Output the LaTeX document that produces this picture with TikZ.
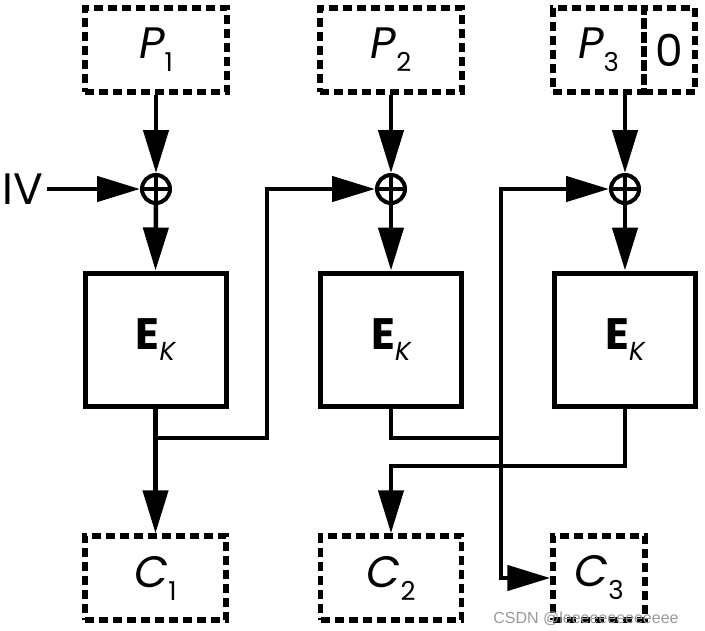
\documentclass[tikz,border=0pt]{standalone}
\usepackage{fontspec}
\setmainfont{Poppins}
\newfontfamily\wmfont{Liberation Sans}
\usetikzlibrary{arrows.meta}
\newcommand{\labsub}[2]{{\itshape #1}\raisebox{-13pt}{\fontsize{26}{26}\selectfont #2}}
\newcommand{\ekey}{{\bfseries E}\raisebox{-11pt}{\fontsize{26}{26}\selectfont\itshape K}}
\begin{document}
\begin{tikzpicture}[x=1pt,y=-1pt,
  dbox/.style={draw,line width=5.5pt,dash pattern=on 9pt off 5pt,minimum height=84pt,inner sep=0pt,font=\fontsize{44}{44}\selectfont},
  ebox/.style={draw,line width=5pt,minimum width=141pt,minimum height=133pt,inner sep=0pt,font=\fontsize{44}{44}\selectfont},
  xorc/.style={draw,circle,line width=4pt,minimum size=28pt,inner sep=0pt},
  wire/.style={line width=4.5pt},
  arr/.style={wire,-{Triangle[length=43pt,width=25pt]}}]
\useasboundingbox (0,0) rectangle (705,630);
% plaintext boxes
\node[dbox,minimum width=142pt] (p1) at (156,50) {\labsub{P}{1}};
\node[dbox,minimum width=142pt] (p2) at (391,50) {\labsub{P}{2}};
\node[dbox,minimum width=91pt] (p3) at (598.5,50) {\labsub{P}{3}};
\node[dbox,minimum width=51pt] (z) at (669.5,50) {0};
% xor
\node[xorc] (x1) at (156,189) {};
\node[xorc] (x2) at (391,189) {};
\node[xorc] (x3) at (625,189) {};
\foreach \n in {x1,x2,x3}{
  \draw[line width=3.5pt] (\n.north) -- (\n.south) (\n.west) -- (\n.east);
}
% encryption boxes
\node[ebox] (e1) at (155.5,339.5) {\ekey};
\node[ebox] (e2) at (391,339.5) {\ekey};
\node[ebox] (e3) at (625,339.5) {\ekey};
% ciphertext boxes
\node[dbox,minimum width=141pt] (c1) at (155.5,578) {\labsub{C}{1}};
\node[dbox,minimum width=141pt] (c2) at (391,578) {\labsub{C}{2}};
\node[dbox,minimum width=92pt] (c3) at (599,578) {\labsub{C}{3}};
% IV
\node[font=\fontsize{44}{44}\selectfont,inner sep=0pt] (iv) at (23,189) {IV};
% connectors
\draw[arr] (iv.east) ++(4pt,0) coordinate (ivs) (ivs) -- (x1.west);
\draw[arr] (p1.south) -- (x1.north);
\draw[arr] (p2.south) -- (x2.north);
\draw[arr] (x3.north |- p3.south) -- (x3.north);
\draw[arr] (x1.south) -- (e1.north);
\draw[arr] (x2.south) -- (e2.north);
\draw[arr] (x3.south) -- (e3.north);
\coordinate (b1) at (156,438);
\coordinate (k1) at (267,438);
\draw[arr] (e1.south) -- (c1.north);
\draw[arr,line join=miter] (b1) -- (k1) |- (x2.west);
\coordinate (j2) at (501,438);
\draw[wire,line join=miter] (e2.south) |- (j2);
\draw[arr,line join=miter] (j2) |- (x3.west);
\draw[arr,line join=miter] (j2) |- (c3.west);
\coordinate (k3) at (391,466);
\draw[arr,line join=miter] (e3.south) |- (k3) -- (c2.north);
% watermark
\node[font=\wmfont\fontsize{16}{16}\selectfont,text=black!40,inner sep=0pt] (wm) at (586,619) {CSDN @leeeeeeeeeeeee};
\end{tikzpicture}
\end{document}
